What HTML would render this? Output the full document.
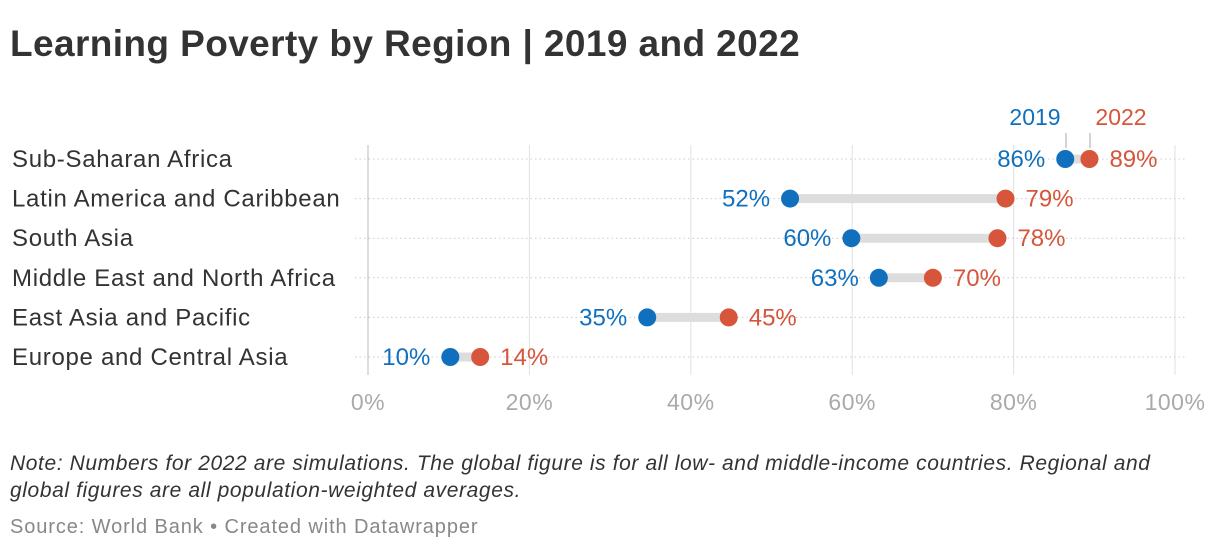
<!DOCTYPE html>
<html><head><meta charset="utf-8"><style>
body{margin:0;background:#fff;width:1220px;height:550px;overflow:hidden;font-family:"Liberation Sans",sans-serif}
svg text{font-family:"Liberation Sans",sans-serif}
</style></head><body>
<svg width="1220" height="550">
<text x="10" y="56" font-size="37" font-weight="bold" fill="#333" letter-spacing="0.4">Learning Poverty by Region | 2019 and 2022</text>
<g id="grid"></g><g id="rows"></g>
<text x="1035" y="125" font-size="23" fill="#1170bd" text-anchor="middle">2019</text>
<text x="1121" y="125" font-size="23" fill="#d6553b" text-anchor="middle">2022</text>
<line x1="1066" y1="133" x2="1066" y2="148" stroke="#aaa"/>
<line x1="1090" y1="133" x2="1090" y2="148" stroke="#aaa"/>
<text x="10" y="470" font-size="21" font-style="italic" fill="#333" letter-spacing="0.6">Note: Numbers for 2022 are simulations. The global figure is for all low- and middle-income countries. Regional and</text>
<text x="10" y="497" font-size="21" font-style="italic" fill="#333" letter-spacing="0.6">global figures are all population-weighted averages.</text>
<text x="10" y="533" font-size="20" fill="#888" letter-spacing="0.9">Source: World Bank • Created with Datawrapper</text>
</svg>
<script>
const regions=["Sub-Saharan Africa","Latin America and Caribbean","South Asia","Middle East and North Africa","East Asia and Pacific","Europe and Central Asia"];
const v2019=[86.4,52.3,59.9,63.3,34.6,10.2];
const v2022=[89.4,79.0,78.0,70.0,44.7,13.9];
const ticks=[0,20,40,60,80,100];
const NS="http://www.w3.org/2000/svg";
const x=v=>368+v*8.07, y=i=>159+i*39.6;
function mk(t,a,p){const e=document.createElementNS(NS,t);for(const k in a)e.setAttribute(k,a[k]);p.appendChild(e);return e;}
const g=document.getElementById('grid'), r=document.getElementById('rows');
ticks.forEach(t=>{
 const l=mk('line',{x1:x(t),x2:x(t),y1:145,y2:375,stroke:t===0?'#bbb':'#e2e2e2','stroke-width':1},g);
 
 
 const tx=mk('text',{x:x(t),y:410,'font-size':23,fill:'#aaa','text-anchor':'middle','letter-spacing':0.5},g);tx.textContent=t+'%';
 
 
});
regions.forEach((n,i)=>{
 const yy=y(i);
 const hl=mk('line',{x1:355,x2:1185,y1:yy,y2:yy,stroke:'#ccc','stroke-dasharray':'1.5,3'},r);
 
 
 const lb=mk('text',{x:12,y:yy+8,'font-size':24,fill:'#333','letter-spacing':0.7},r);lb.textContent=n;
 
 
 const c=mk('line',{x1:x(v2019[i]),x2:x(v2022[i]),y1:yy,y2:yy,stroke:'#ddd','stroke-width':9},r);
 
 
 const d1=mk('circle',{cx:x(v2019[i]),cy:yy,r:9,fill:'#1170bd'},r);
 
 
 const d2=mk('circle',{cx:x(v2022[i]),cy:yy,r:9,fill:'#d6553b'},r);
 
 
 const t1=mk('text',{x:x(v2019[i])-20,y:yy+8,'font-size':24,fill:'#1170bd','text-anchor':'end'},r);t1.textContent=Math.round(v2019[i])+'%';
 
 
 const t2=mk('text',{x:x(v2022[i])+20,y:yy+8,'font-size':24,fill:'#d6553b'},r);t2.textContent=Math.round(v2022[i])+'%';
 
 
});
</script>
</body></html>
